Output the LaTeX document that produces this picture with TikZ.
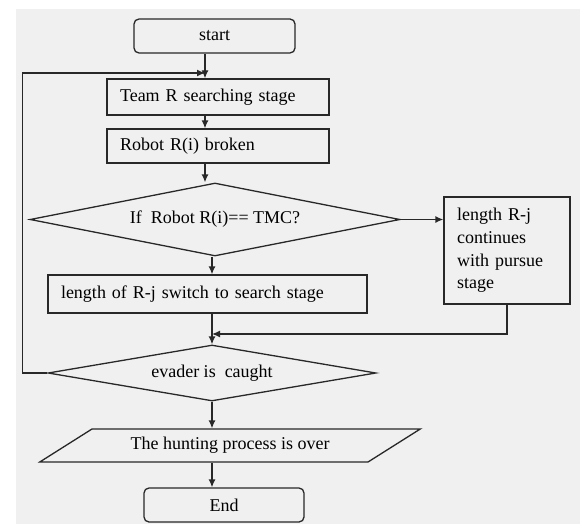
\documentclass[tikz,border=0pt]{standalone}
\usepackage{fontspec}
\setmainfont{Liberation Serif}
\usetikzlibrary{shapes.geometric,arrows.meta}
\definecolor{paper}{RGB}{240,240,240}
\definecolor{ink}{RGB}{40,40,40}
\begin{document}
\begin{tikzpicture}[x=1pt,y=-1pt,
    font=\fontsize{18}{22.6}\selectfont,
    line width=1.3pt,
    term/.style={draw=ink, rounded corners=5pt, minimum width=161pt, minimum height=34pt, inner sep=0pt},
    box/.style={draw=ink, text width=#1, align=left, inner xsep=13pt, inner ysep=0pt, minimum height=36pt},
    test/.style={draw=ink, diamond, aspect=5, inner sep=0pt},
    io/.style={draw=ink, trapezium, trapezium left angle=23.5, trapezium right angle=156.5,
               trapezium stretches=true, inner sep=0pt},
    flow/.style={draw=ink, -{Latex[length=8pt,width=7pt]}}]
    \useasboundingbox (0,0) rectangle (580,524);
    \fill [paper] (16,9) rectangle (580,524);

    \node[term] (S) at (214.5,36) {start};
    \node[box=196pt] (T) at (218,97) {Team R searching stage};
    \node[box=196pt, minimum height=34pt] (R) at (218,146) {Robot R(i) broken};
    \node[test, minimum width=370pt, minimum height=73pt] (D1) at (215,219.5) {If\ \ Robot R(i)== TMC?};
    \node[box=100pt, minimum height=107pt] (P) at (507,250.5) {length R-j\\continues\\with pursue\\stage};
    \node[box=293pt, minimum height=38pt] (W) at (207.5,294) {length of R-j switch to search stage};
    \node[test, minimum width=328pt, minimum height=56pt] (D2) at (212,373) {evader is\ \ caught};
    \node[io, minimum width=382pt, minimum height=33pt] (H) at (230,445.5) {The hunting process is over};
    \node[term, minimum width=160pt] (E) at (224,505) {End};

    \coordinate (J) at (205,73);
    \coordinate (M) at (212,334);

    \draw [flow] (S.south -| J)  -- (J |- T.north);
    \draw [flow] (D2.west)       -- ++(-25,0) |- (J);
    \draw [flow] (T.south -| J)  -- (J |- R.north);
    \draw [flow] (R.south -| J)  -- (J |- D1.north);
    \draw [flow] (D1.east)       -- (D1.east -| P.west);
    \draw [flow] (D1.south -| M) -- (M |- W.north);
    \draw [draw=ink] (W.south -| M) -- (M);
    \draw [flow] (P.south)       |- (M);
    \draw [flow] (M)             -- (D2.north);
    \draw [flow] (D2.south)      -- (D2.south |- H.north);
    \draw [flow] (D2.south |- H.south) -- (D2.south |- E.north);
\end{tikzpicture}
\end{document}
